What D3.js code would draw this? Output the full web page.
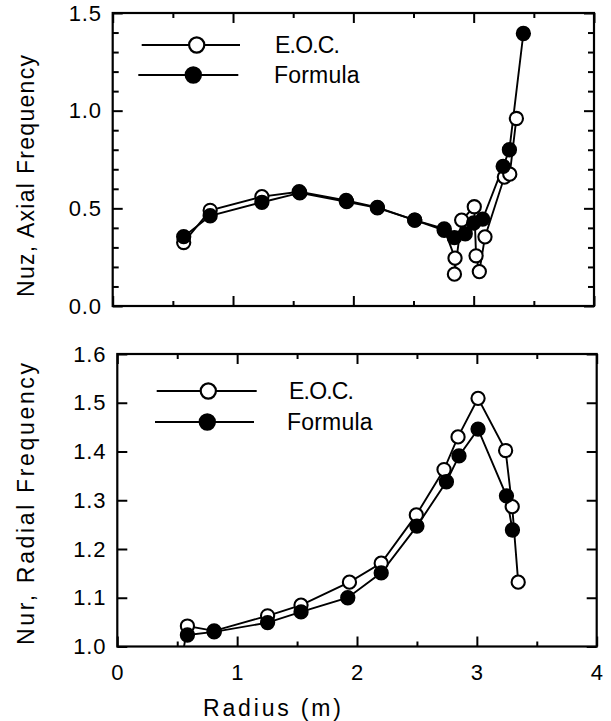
<!DOCTYPE html>
<html>
<head>
<meta charset="utf-8">
<script src="https://cdn.jsdelivr.net/npm/d3@7"></script>
<style>
  html, body { margin: 0; padding: 0; background: #fff; }
  svg { display: block; }
  text { font-family: "Liberation Sans", Arial, Helvetica, sans-serif; fill: #000; }
</style>
</head>
<body>
<svg id="chart" width="611" height="721"></svg>
<script>
// ---------- data ----------
// Top panel: axial frequency
const topRadiusEOC = [0.59, 0.81, 1.24, 1.55, 1.94, 2.20, 2.51, 2.755, 2.845, 2.84, 2.90, 3.005, 3.02, 3.047, 3.094, 3.255, 3.30, 3.355];
const topNuzEOC    = [0.325, 0.49, 0.56, 0.585, 0.54, 0.505, 0.44, 0.395, 0.245, 0.163, 0.44, 0.508, 0.257, 0.176, 0.354, 0.66, 0.675, 0.96];
const topRadiusFormula = [0.59, 0.81, 1.24, 1.555, 1.944, 2.20, 2.51, 2.755, 2.84, 2.93, 3.0, 3.075, 3.245, 3.297, 3.413];
const topNuzFormula    = [0.355, 0.462, 0.531, 0.579, 0.534, 0.502, 0.44, 0.387, 0.35, 0.37, 0.425, 0.445, 0.715, 0.80, 1.395];

// Bottom panel: radial frequency
const botRadiusEOC = [0.53, 0.585, 0.808, 1.254, 1.533, 1.937, 2.202, 2.495, 2.726, 2.843, 3.01, 3.24, 3.295, 3.345];
const botNurEOC    = [0.96, 1.042, 1.032, 1.063, 1.085, 1.132, 1.171, 1.27, 1.363, 1.43, 1.509, 1.402, 1.287, 1.132];
const botRadiusFormula = [0.585, 0.808, 1.254, 1.533, 1.923, 2.202, 2.5, 2.746, 2.851, 3.01, 3.247, 3.297];
const botNurFormula    = [1.0236, 1.030, 1.049, 1.071, 1.100, 1.151, 1.247, 1.338, 1.391, 1.446, 1.309, 1.239];

// Tick values / labels
const xMinorTicks = [0.5, 1.5, 2.5, 3.5];
const xMajorTicks = [0, 1, 2, 3, 4];
const xTickLabels = ["0", "1", "2", "3", "4"];
const topYMajor = [0, 0.5, 1.0, 1.5];
const topYLabels = ["0.0", "0.5", "1.0", "1.5"];
const topYMinor = [0.1, 0.2, 0.3, 0.4, 0.6, 0.7, 0.8, 0.9, 1.1, 1.2, 1.3, 1.4];
const botYMajor = [1.0, 1.1, 1.2, 1.3, 1.4, 1.5, 1.6];
const botYLabels = ["1.0", "1.1", "1.2", "1.3", "1.4", "1.5", "1.6"];

const seriesNames = ["E.O.C.", "Formula"];
const topTitle = "Nuz,  Axial Frequency";
const botTitle = "Nur,  Radial Frequency";
const xTitle = "Radius  (m)";

// ---------- drawing ----------
const svg = d3.select("#chart");
const FONT = 22;
const TITLE_FONT = 23;

function zip(xs, ys) { return xs.map((x, i) => [x, ys[i]]); }

function panel(cfg) {
  const x = d3.scaleLinear().domain([0, 4]).range([cfg.left, cfg.right]);
  const y = d3.scaleLinear().domain(cfg.yDomain).range([cfg.bottom, cfg.top]);
  const g = svg.append("g");

  const clipId = "clip" + cfg.id;
  svg.append("defs").append("clipPath").attr("id", clipId)
    .append("rect").attr("x", cfg.left).attr("y", cfg.top)
    .attr("width", cfg.right - cfg.left).attr("height", cfg.bottom - cfg.top);

  function styleAxis(sel) {
    sel.select(".domain").remove();
    sel.selectAll(".tick line").attr("stroke", "#000").attr("stroke-width", 2);
    sel.selectAll(".tick text").style("font-size", FONT + "px")
      .style("letter-spacing", "0.8px")
      .style("font-family", '"Liberation Sans", Arial, sans-serif').attr("fill", "#000");
  }
  g.append("g").attr("transform", `translate(${cfg.left},0)`)
    .call(d3.axisLeft(y).tickValues(cfg.yMajor).tickSize(-10).tickPadding(11)
      .tickFormat((d, i) => cfg.yLabels[i]))
    .call(styleAxis);
  g.append("g").attr("transform", `translate(${cfg.right},0)`)
    .call(d3.axisRight(y).tickValues(cfg.yMajor).tickSize(-10).tickFormat(""))
    .call(styleAxis);
  if (cfg.yMinor) {
    g.append("g").attr("transform", `translate(${cfg.left},0)`)
      .call(d3.axisLeft(y).tickValues(cfg.yMinor).tickSize(-6).tickFormat(""))
      .call(styleAxis);
    g.append("g").attr("transform", `translate(${cfg.right},0)`)
      .call(d3.axisRight(y).tickValues(cfg.yMinor).tickSize(-6).tickFormat(""))
      .call(styleAxis);
  }
  g.append("g").attr("transform", `translate(0,${cfg.bottom})`)
    .call(d3.axisBottom(x).tickValues(xMajorTicks).tickSize(-10).tickPadding(18)
      .tickFormat((d, i) => cfg.xLabels ? xTickLabels[i] : ""))
    .call(styleAxis);
  g.append("g").attr("transform", `translate(0,${cfg.bottom})`)
    .call(d3.axisBottom(x).tickValues(xMinorTicks).tickSize(-5).tickFormat(""))
    .call(styleAxis);
  g.append("g").attr("transform", `translate(0,${cfg.top})`)
    .call(d3.axisTop(x).tickValues(xMajorTicks).tickSize(-10).tickFormat(""))
    .call(styleAxis);
  g.append("g").attr("transform", `translate(0,${cfg.top})`)
    .call(d3.axisTop(x).tickValues(xMinorTicks).tickSize(-5).tickFormat(""))
    .call(styleAxis);

  g.append("rect").attr("x", cfg.left).attr("y", cfg.top)
    .attr("width", cfg.right - cfg.left).attr("height", cfg.bottom - cfg.top)
    .attr("fill", "none").attr("stroke", "#000").attr("stroke-width", 2.2);

  const line = d3.line().x(d => x(d[0])).y(d => y(d[1]));
  const plot = g.append("g").attr("clip-path", `url(#${clipId})`);
  const series = [
    { pts: zip(cfg.eocX, cfg.eocY), fill: "#fff" },
    { pts: zip(cfg.fX, cfg.fY), fill: "#000" }
  ];
  series.forEach(s => {
    plot.append("path").datum(s.pts).attr("d", line)
      .attr("fill", "none").attr("stroke", "#000").attr("stroke-width", 1.9);
  });
  series.forEach(s => {
    plot.selectAll(null).data(s.pts).enter().append("circle")
      .attr("cx", d => x(d[0])).attr("cy", d => y(d[1])).attr("r", 6.6)
      .attr("fill", s.fill).attr("stroke", "#000").attr("stroke-width", 2.1);
  });

  const L = cfg.legend;
  const lg = g.append("g");
  seriesNames.forEach((name, i) => {
    const row = L.rows[i];
    lg.append("line").attr("x1", row.x1).attr("x2", row.x2).attr("y1", row.y).attr("y2", row.y)
      .attr("stroke", "#000").attr("stroke-width", 1.9);
    lg.append("circle").attr("cx", row.cx).attr("cy", row.y).attr("r", 7.6)
      .attr("fill", i === 0 ? "#fff" : "#000").attr("stroke", "#000").attr("stroke-width", 2.2);
    lg.append("text").attr("x", row.tx).attr("y", row.y + 8)
      .style("font-size", TITLE_FONT + "px").style("letter-spacing", i === 0 ? "-0.8px" : "0.2px").text(name);
  });

  g.append("text")
    .attr("transform", `translate(${cfg.titleX},${cfg.titleY}) rotate(-90)`)
    .attr("text-anchor", "middle")
    .attr("textLength", cfg.titleLen).attr("lengthAdjust", "spacing")
    .style("font-size", TITLE_FONT + "px").text(cfg.title);
  return { x, y };
}

panel({
  id: "top", left: 112.7, right: 594, top: 13, bottom: 306,
  yDomain: [0, 1.5], yMajor: topYMajor, yLabels: topYLabels, yMinor: topYMinor,
  xLabels: false,
  eocX: topRadiusEOC, eocY: topNuzEOC, fX: topRadiusFormula, fY: topNuzFormula,
  legend: { rows: [
    { x1: 141.7, x2: 240, cx: 196.7, y: 45, tx: 275 },
    { x1: 138.3, x2: 238.3, cx: 193.3, y: 75, tx: 274 }
  ] },
  title: topTitle, titleX: 34, titleY: 176, titleLen: 242
});

panel({
  id: "bot", left: 117.3, right: 596.7, top: 354, bottom: 646.5,
  yDomain: [1.0, 1.6], yMajor: botYMajor, yLabels: botYLabels, yMinor: null,
  xLabels: true,
  eocX: botRadiusEOC, eocY: botNurEOC, fX: botRadiusFormula, fY: botNurFormula,
  legend: { rows: [
    { x1: 156.7, x2: 256.7, cx: 208.3, y: 391, tx: 289 },
    { x1: 155, x2: 254, cx: 207.3, y: 422, tx: 287 }
  ] },
  title: botTitle, titleX: 34, titleY: 504, titleLen: 282
});

svg.append("text").attr("x", 272).attr("y", 716)
  .attr("text-anchor", "middle")
  .attr("textLength", 138).attr("lengthAdjust", "spacing")
  .style("font-size", TITLE_FONT + "px").text(xTitle);
</script>
</body>
</html>
